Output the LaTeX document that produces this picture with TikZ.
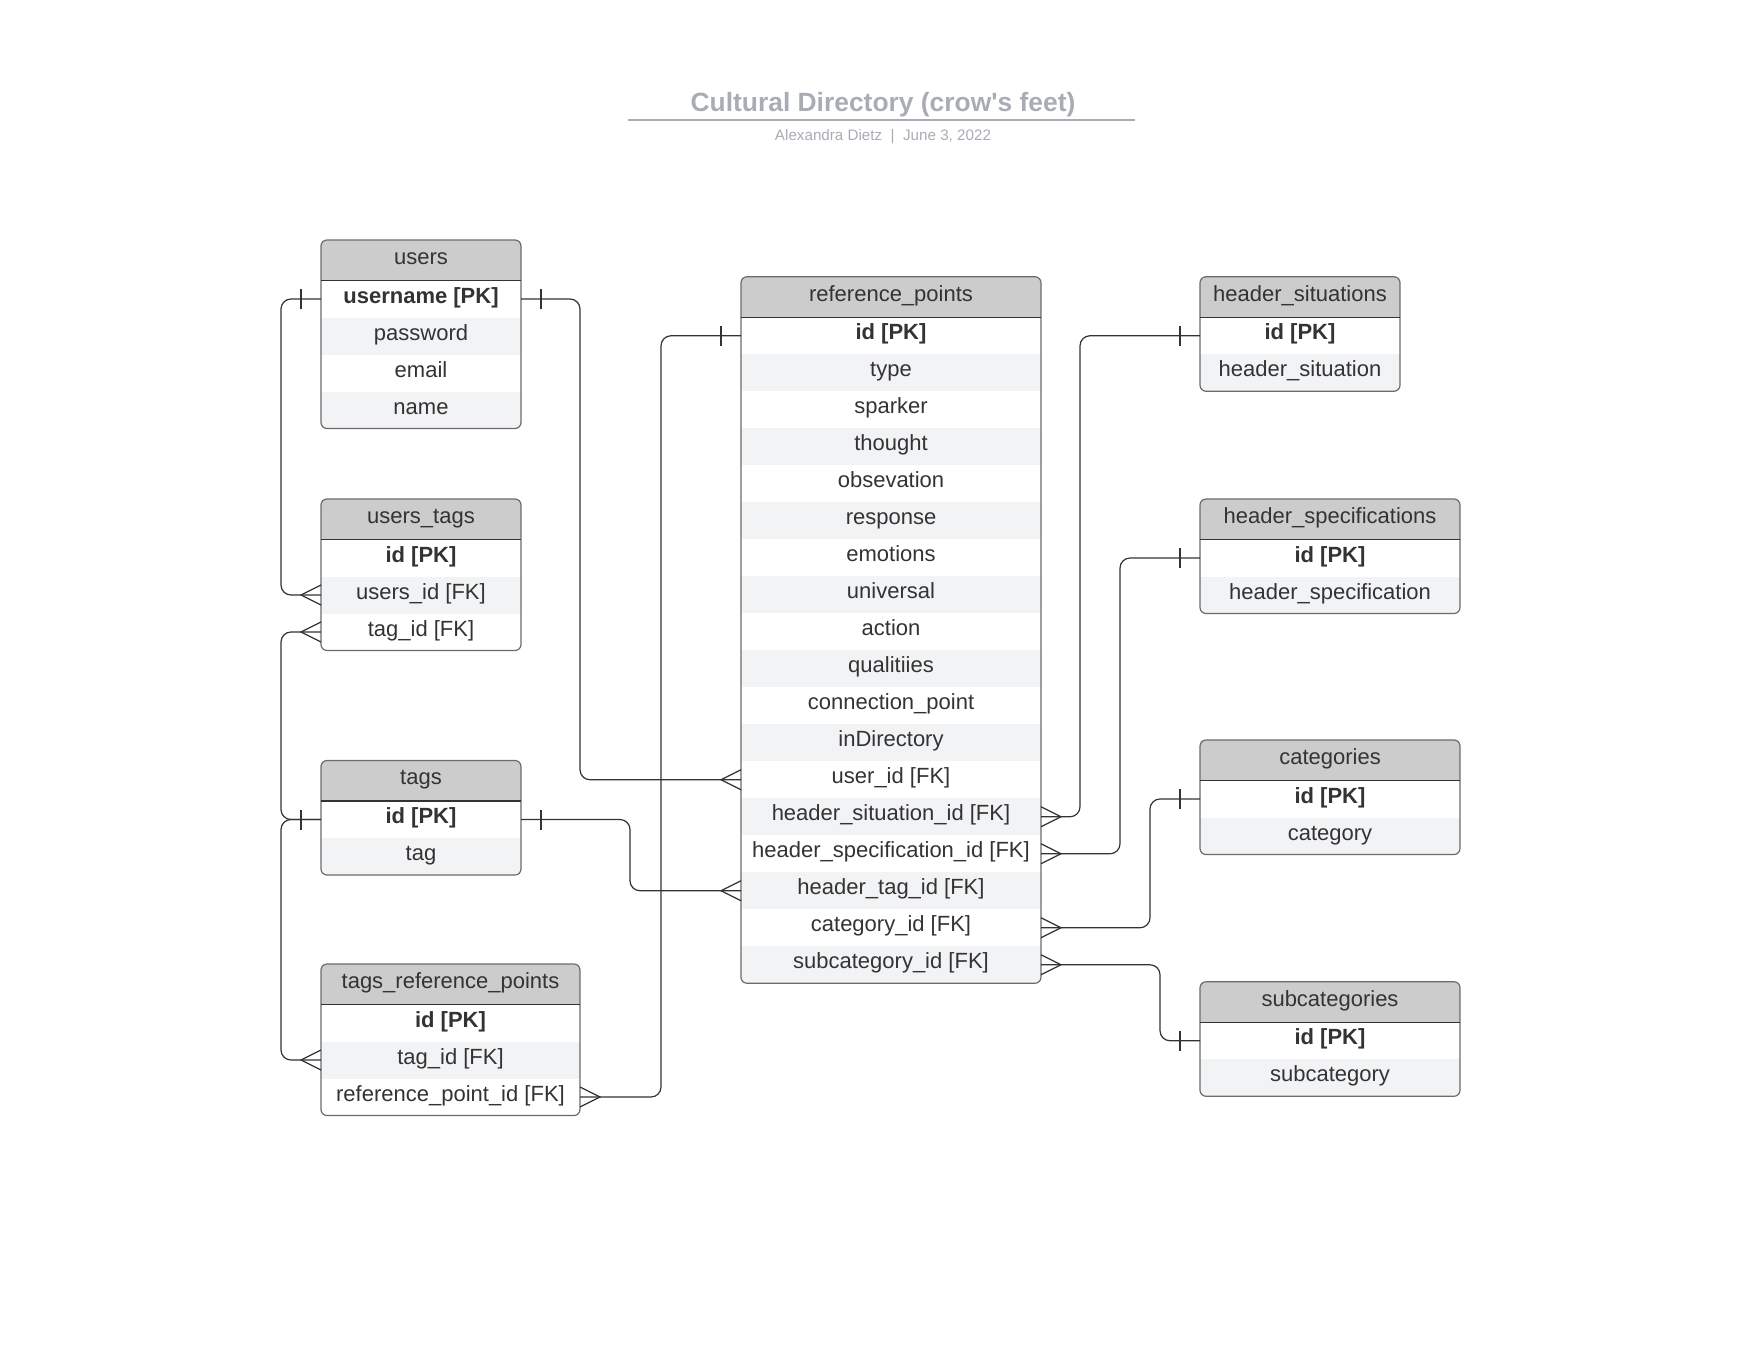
\documentclass[tikz,border=0pt]{standalone}
\usepackage{fontspec}
\setmainfont{Liberation Sans}
\usetikzlibrary{positioning}

\definecolor{headfill}{HTML}{CCCCCC}
\definecolor{stripefill}{HTML}{F2F3F5}
\definecolor{inktext}{HTML}{333333}
\definecolor{boxline}{HTML}{6B6B6B}
\definecolor{titlegrey}{HTML}{A8ADB5}

\tikzstyle{field}=[inner sep=0pt,outer sep=0pt,minimum height=18.5pt,text height=7pt,text depth=3pt,text=inktext,font=\fontsize{11}{13}\selectfont]
\tikzstyle{headrow}=[field,minimum height=20.25pt,fill=headfill]
\tikzstyle{plainrow}=[field,fill=white]
\tikzstyle{striperow}=[field,fill=stripefill]
\tikzstyle{keyrow}=[plainrow,font=\fontsize{11}{13}\selectfont\bfseries]
\tikzstyle{link}=[draw=inktext,line width=0.6pt,rounded corners=5pt]
\tikzstyle{notch}=[draw=inktext,line width=0.6pt]

\tikzset{
  onebar/.pic={\draw[notch] (-20,-10) -- (-20,10);},
  crowfoot/.pic={\draw[notch] (0,-10) -- (-20,0) -- (0,10);}
}

% rounded frame round a table: header node, last row node
\newcommand{\dbframe}[2]{%
  \fill[white,even odd rule] (#1.north west) rectangle (#2.south east)
    [rounded corners=3pt] (#1.north west) rectangle (#2.south east);
  \draw[draw=boxline,line width=0.6pt,rounded corners=3pt] (#1.north west) rectangle (#2.south east);
  \draw[draw=inktext,line width=0.6pt] (#1.south west) -- (#1.south east);}

\begin{document}
\begin{tikzpicture}[x=0.5pt,y=-0.5pt]
  \useasboundingbox (0,0) rectangle (1760,1360);

  % title block
  \node[anchor=base,text=titlegrey,font=\fontsize{13.2}{15}\selectfont\bfseries] (title) at (883,111) {Cultural Directory (crow\textquotesingle s feet)};
  \draw[titlegrey,line width=0.75pt] (628,120) -- (1135,120);
  \node[anchor=base,text=titlegrey,font=\fontsize{7.6}{9}\selectfont] (byline) at (883,140) {Alexandra Dietz\ \ |\ \ June 3, 2022};

  % left column
  \begin{scope}[minimum width=100pt]
    \node[headrow] (users) at (421,260.25) {users};
    \node[keyrow,below=0pt of users] (users-1) {username [PK]};
    \node[striperow,below=0pt of users-1] (users-2) {password};
    \node[plainrow,below=0pt of users-2] (users-3) {email};
    \node[striperow,below=0pt of users-3] (users-4) {name};

    \node[headrow] (ut) at (421,519.25) {users\_tags};
    \node[keyrow,below=0pt of ut] (ut-1) {id [PK]};
    \node[striperow,below=0pt of ut-1] (ut-2) {users\_id [FK]};
    \node[plainrow,below=0pt of ut-2] (ut-3) {tag\_id [FK]};

    \node[headrow] (tags) at (421,780.75) {tags};
    \node[keyrow,below=0pt of tags] (tags-1) {id [PK]};
    \node[striperow,below=0pt of tags-1] (tags-2) {tag};
  \end{scope}

  \begin{scope}[minimum width=129.5pt]
    \node[headrow] (trp) at (450.5,984.25) {tags\_reference\_points};
    \node[keyrow,below=0pt of trp] (trp-1) {id [PK]};
    \node[striperow,below=0pt of trp-1] (trp-2) {tag\_id [FK]};
    \node[plainrow,below=0pt of trp-2] (trp-3) {reference\_point\_id [FK]};
  \end{scope}

  % middle
  \begin{scope}[minimum width=150pt]
    \node[headrow] (rp) at (891,297) {reference\_points};
    \node[keyrow,below=0pt of rp] (rp-1) {id [PK]};
    \node[striperow,below=0pt of rp-1] (rp-2) {type};
    \node[plainrow,below=0pt of rp-2] (rp-3) {sparker};
    \node[striperow,below=0pt of rp-3] (rp-4) {thought};
    \node[plainrow,below=0pt of rp-4] (rp-5) {obsevation};
    \node[striperow,below=0pt of rp-5] (rp-6) {response};
    \node[plainrow,below=0pt of rp-6] (rp-7) {emotions};
    \node[striperow,below=0pt of rp-7] (rp-8) {universal};
    \node[plainrow,below=0pt of rp-8] (rp-9) {action};
    \node[striperow,below=0pt of rp-9] (rp-10) {qualitiies};
    \node[plainrow,below=0pt of rp-10] (rp-11) {connection\_point};
    \node[striperow,below=0pt of rp-11] (rp-12) {inDirectory};
    \node[plainrow,below=0pt of rp-12] (rp-13) {user\_id [FK]};
    \node[striperow,below=0pt of rp-13] (rp-14) {header\_situation\_id [FK]};
    \node[plainrow,below=0pt of rp-14] (rp-15) {header\_specification\_id [FK]};
    \node[striperow,below=0pt of rp-15] (rp-16) {header\_tag\_id [FK]};
    \node[plainrow,below=0pt of rp-16] (rp-17) {category\_id [FK]};
    \node[striperow,below=0pt of rp-17] (rp-18) {subcategory\_id [FK]};
  \end{scope}

  % right column
  \begin{scope}[minimum width=100pt]
    \node[headrow] (hs) at (1300,297) {header\_situations};
    \node[keyrow,below=0pt of hs] (hs-1) {id [PK]};
    \node[striperow,below=0pt of hs-1] (hs-2) {header\_situation};
  \end{scope}

  \begin{scope}[minimum width=130pt]
    \node[headrow] (hsp) at (1330,519.25) {header\_specifications};
    \node[keyrow,below=0pt of hsp] (hsp-1) {id [PK]};
    \node[striperow,below=0pt of hsp-1] (hsp-2) {header\_specification};

    \node[headrow] (cat) at (1330,760.25) {categories};
    \node[keyrow,below=0pt of cat] (cat-1) {id [PK]};
    \node[striperow,below=0pt of cat-1] (cat-2) {category};

    \node[headrow] (sub) at (1330,1002) {subcategories};
    \node[keyrow,below=0pt of sub] (sub-1) {id [PK]};
    \node[striperow,below=0pt of sub-1] (sub-2) {subcategory};
  \end{scope}

  \dbframe{users}{users-4}
  \dbframe{ut}{ut-3}
  \dbframe{tags}{tags-2}
  \dbframe{trp}{trp-3}
  \dbframe{rp}{rp-18}
  \dbframe{hs}{hs-2}
  \dbframe{hsp}{hsp-2}
  \dbframe{cat}{cat-2}
  \dbframe{sub}{sub-2}

  % relations
  \draw[link] (users-1.west) -- ++(-40,0) |- (ut-2.west);
  \draw[link] (ut-3.west) -- ++(-40,0) |- (tags-1.west);
  \draw[link] (tags-1.west) -- ++(-40,0) |- (trp-2.west);
  \draw[link] (users-1.east) -- ++(59,0) |- (rp-13.west);
  \draw[link] (tags-1.east) -- ++(109,0) |- (rp-16.west);
  \draw[link] (rp-1.west) -- ++(-80,0) |- (trp-3.east);
  \draw[link] (hs-1.west) -- ++(-120,0) |- (rp-14.east);
  \draw[link] (hsp-1.west) -- ++(-80,0) |- (rp-15.east);
  \draw[link] (cat-1.west) -- ++(-50,0) |- (rp-17.east);
  \draw[link] (sub-1.west) -- ++(-40,0) |- (rp-18.east);

  % ends: one
  \pic at (users-1.west) {onebar};
  \pic[xscale=-1] at (users-1.east) {onebar};
  \pic at (tags-1.west) {onebar};
  \pic[xscale=-1] at (tags-1.east) {onebar};
  \pic at (rp-1.west) {onebar};
  \pic at (hs-1.west) {onebar};
  \pic at (hsp-1.west) {onebar};
  \pic at (cat-1.west) {onebar};
  \pic at (sub-1.west) {onebar};

  % ends: many
  \pic at (ut-2.west) {crowfoot};
  \pic at (ut-3.west) {crowfoot};
  \pic at (trp-2.west) {crowfoot};
  \pic[xscale=-1] at (trp-3.east) {crowfoot};
  \pic at (rp-13.west) {crowfoot};
  \pic at (rp-16.west) {crowfoot};
  \pic[xscale=-1] at (rp-14.east) {crowfoot};
  \pic[xscale=-1] at (rp-15.east) {crowfoot};
  \pic[xscale=-1] at (rp-17.east) {crowfoot};
  \pic[xscale=-1] at (rp-18.east) {crowfoot};
\end{tikzpicture}
\end{document}
